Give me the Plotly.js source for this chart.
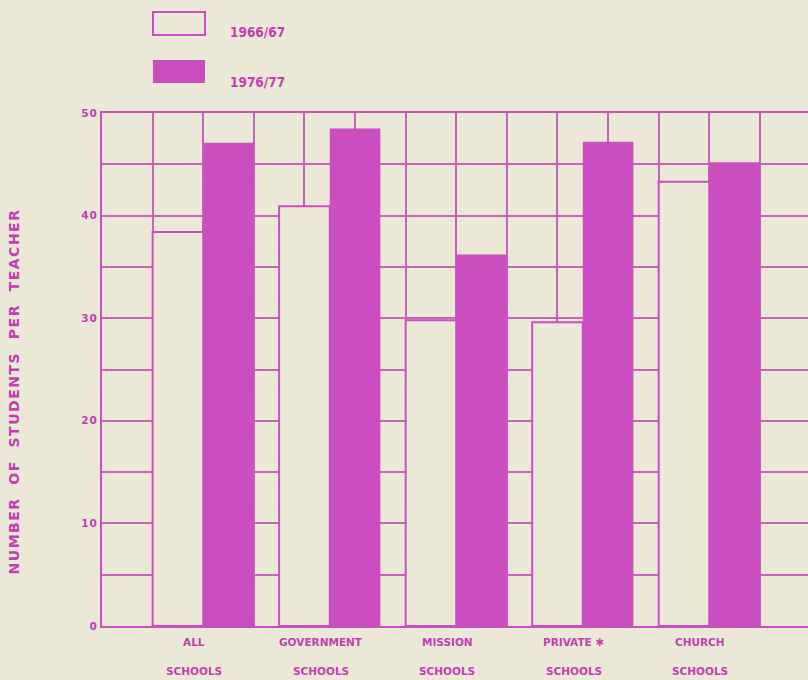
<!DOCTYPE html>
<html><head><meta charset="utf-8">
<script src="https://cdn.plot.ly/plotly-3.0.1.min.js"></script>
<style>
html,body{margin:0;padding:0;background:#ece8d8;}
#chart{width:808px;height:680px;}
.ytitle{letter-spacing:1.5px;}
.g-ytitle{transform:translate(0px,22px);}
g.ytick text{letter-spacing:1px;}
</style>
</head><body>
<div id="chart"></div>
<script>
// ---- data ----
const categoriesLine1 = ['ALL', 'GOVERNMENT', 'MISSION', 'PRIVATE \u2731', 'CHURCH'];
const categoriesLine2 = ['SCHOOLS', 'SCHOOLS', 'SCHOOLS', 'SCHOOLS', 'SCHOOLS'];
const seriesNames = ['1966/67', '1976/77'];
const values1966 = [38.4, 40.9, 29.8, 29.6, 43.3];
const values1976 = [47.1, 48.5, 36.2, 47.2, 45.2];
const yTickLabels = [0, 10, 20, 30, 40, 50];

// ---- style ----
const BG = '#ece8d8';
const MAG = '#cb4ec1';
const GRID = '#c764b9';
const TXT = '#c23fb3';
const FONT = 'DejaVu Sans';

const idx = categoriesLine1.map((_, i) => i);

const traces = [
  {type: 'bar', name: seriesNames[0], x: idx, y: values1966,
   marker: {color: BG, line: {color: MAG, width: 2}}, hoverinfo: 'y'},
  {type: 'bar', name: seriesNames[1], x: idx, y: values1976,
   marker: {color: MAG, line: {width: 0}}, hoverinfo: 'y'}
];

const annotations = [];
idx.forEach(i => {
  annotations.push({x: i, xref: 'x', y: -0.031, yref: 'paper', text: categoriesLine1[i],
    showarrow: false, xanchor: 'center', yanchor: 'middle', xshift: -9,
    font: {family: FONT, size: 10.5, color: TXT, weight: 'bold'}});
  annotations.push({x: i, xref: 'x', y: -0.088, yref: 'paper', text: categoriesLine2[i],
    showarrow: false, xanchor: 'center', yanchor: 'middle', xshift: -9,
    font: {family: FONT, size: 10.5, color: TXT, weight: 'bold'}});
});
// legend labels
annotations.push({x: 0.178, xref: 'paper', y: 1.158, yref: 'paper', text: seriesNames[0],
  showarrow: false, xanchor: 'left', yanchor: 'middle',
  font: {family: 'DejaVu Sans Condensed, DejaVu Sans', size: 13.5, color: TXT, weight: 'bold'}});
annotations.push({x: 0.178, xref: 'paper', y: 1.060, yref: 'paper', text: seriesNames[1],
  showarrow: false, xanchor: 'left', yanchor: 'middle',
  font: {family: 'DejaVu Sans Condensed, DejaVu Sans', size: 13.5, color: TXT, weight: 'bold'}});

const shapes = [
  {type: 'rect', xref: 'paper', yref: 'paper', x0: 0.0722, x1: 0.1459, y0: 1.152, y1: 1.197,
   line: {color: MAG, width: 2}, fillcolor: BG},
  {type: 'rect', xref: 'paper', yref: 'paper', x0: 0.0722, x1: 0.1459, y0: 1.0585, y1: 1.1033,
   line: {width: 0}, fillcolor: MAG}
];

const layout = {
  width: 808, height: 680,
  margin: {l: 102, r: 0, t: 113, b: 54},
  paper_bgcolor: BG, plot_bgcolor: BG,
  showlegend: false,
  barmode: 'group', bargap: 0.2, bargroupgap: 0,
  xaxis: {type: 'linear', range: [-0.8, 4.78], tick0: 0, dtick: 0.4,
    showticklabels: false, ticks: '', showgrid: true, gridcolor: GRID, gridwidth: 2,
    zeroline: false, showline: true, linecolor: MAG, linewidth: 2, mirror: true},
  yaxis: {range: [0, 50], tickvals: yTickLabels, ticktext: yTickLabels.map(String),
    ticks: '', showgrid: true, gridcolor: GRID, gridwidth: 2,
    minor: {dtick: 5, showgrid: true, gridcolor: GRID, gridwidth: 2, ticks: ''},
    zeroline: false, showline: true, linecolor: MAG, linewidth: 2,
    tickfont: {family: FONT, size: 10.5, color: TXT, weight: 'bold'},
    title: {text: 'NUMBER  OF  STUDENTS  PER  TEACHER', standoff: 58,
      font: {family: FONT, size: 14, color: TXT, weight: 'bold'}}},
  annotations: annotations,
  shapes: shapes
};

Plotly.newPlot('chart', traces, layout, {displayModeBar: false, staticPlot: true});
</script>
</body></html>
